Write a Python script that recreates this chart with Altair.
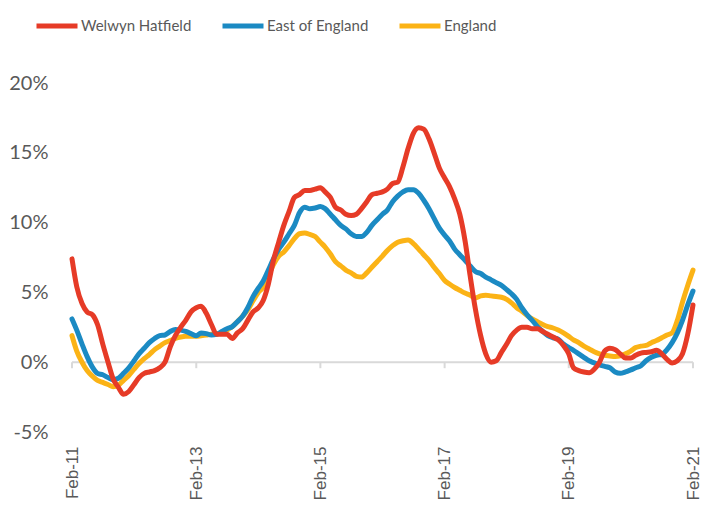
import altair as alt
import pandas as pd

series_names = ["Welwyn Hatfield", "East of England", "England"]
series_colors = ["#E63B27", "#1B8AC3", "#FBB316"]

start_month = "2011-02-01"
n_months = 121

welwyn = [7.4, 5.4, 4.2, 3.6, 3.4, 2.7, 1.3, 0.0, -1.2, -1.8,
          -2.3, -2.1, -1.6, -1.1, -0.8, -0.7, -0.6, -0.4, 0.0, 1.1,
          1.9, 2.5, 3.0, 3.6, 3.9, 4.0, 3.5, 2.7, 2.0, 2.0,
          2.0, 1.7, 2.1, 2.4, 3.0, 3.6, 3.9, 4.4, 5.6, 7.3,
          8.6, 9.8, 10.8, 11.8, 12.0, 12.3, 12.3, 12.4, 12.5, 12.2,
          11.8, 11.1, 10.9, 10.6, 10.5, 10.6, 11.0, 11.5, 12.0, 12.1,
          12.2, 12.4, 12.8, 12.9, 14.0, 15.3, 16.4, 16.8, 16.7, 16.0,
          15.0, 13.9, 13.2, 12.6, 11.7, 10.6, 8.7, 6.2, 3.8, 1.9,
          0.6, 0.0, 0.1, 0.7, 1.3, 1.9, 2.3, 2.5, 2.5, 2.4,
          2.4, 2.2, 2.0, 1.8, 1.6, 1.2, 0.6, -0.4, -0.6, -0.7,
          -0.75, -0.5, 0.0, 0.8, 1.0, 0.9, 0.6, 0.3, 0.3, 0.5,
          0.65, 0.7, 0.75, 0.85, 0.6, 0.2, -0.05, 0.1, 0.6, 2.0,
          4.1]

east = [3.1, 2.3, 1.3, 0.4, -0.35, -0.8, -0.9, -1.1, -1.25, -1.15,
        -0.8, -0.4, 0.1, 0.6, 1.0, 1.4, 1.7, 1.9, 1.95, 2.2,
        2.35, 2.3, 2.2, 2.05, 1.9, 2.1, 2.05, 1.95, 2.0, 2.2,
        2.4, 2.55, 2.9, 3.3, 3.9, 4.7, 5.3, 5.8, 6.6, 7.4,
        8.1, 8.6, 9.2, 9.8, 10.7, 11.1, 11.0, 11.05, 11.15, 11.0,
        10.6, 10.2, 9.8, 9.55, 9.2, 9.0, 9.0, 9.3, 9.8, 10.2,
        10.6, 10.9, 11.5, 11.9, 12.2, 12.35, 12.35, 12.1, 11.6, 11.0,
        10.3, 9.6, 9.1, 8.7, 8.1, 7.7, 7.3, 6.9, 6.5, 6.35,
        6.1, 5.9, 5.7, 5.5, 5.2, 4.9, 4.5, 3.9, 3.4, 3.0,
        2.55, 2.2, 1.9, 1.75, 1.65, 1.3, 1.05, 0.85, 0.6, 0.35,
        0.1, -0.05, -0.2, -0.3, -0.4, -0.7, -0.8, -0.7, -0.55, -0.4,
        -0.25, 0.1, 0.35, 0.5, 0.55, 0.9, 1.4, 2.1, 3.0, 4.1,
        5.1]

england = [1.9, 0.8, 0.0, -0.6, -1.0, -1.3, -1.45, -1.6, -1.75, -1.65,
           -1.3, -0.95, -0.5, -0.1, 0.25, 0.55, 0.9, 1.15, 1.4, 1.55,
           1.7, 1.8, 1.85, 1.85, 1.85, 1.9, 1.95, 2.0, 2.03, 2.1,
           2.3, 2.55, 2.9, 3.3, 3.75, 4.4, 5.0, 5.35, 6.2, 7.0,
           7.6, 7.9, 8.35, 8.85, 9.2, 9.25, 9.15, 9.0, 8.6, 8.25,
           7.75, 7.2, 6.9, 6.6, 6.4, 6.15, 6.1, 6.4, 6.8, 7.2,
           7.6, 8.0, 8.35, 8.6, 8.7, 8.75, 8.5, 8.1, 7.7, 7.3,
           6.8, 6.35, 5.85, 5.6, 5.35, 5.15, 4.95, 4.8, 4.6, 4.75,
           4.8, 4.75, 4.7, 4.65, 4.5, 4.25, 3.9, 3.65, 3.35, 3.1,
           2.9, 2.7, 2.55, 2.45, 2.3, 2.1, 1.85, 1.6, 1.4, 1.15,
           0.95, 0.75, 0.6, 0.5, 0.45, 0.4, 0.45, 0.6, 0.8, 1.05,
           1.15, 1.2, 1.4, 1.55, 1.75, 1.95, 2.1, 3.0, 4.3, 5.5,
           6.6]

x_tick_dates = ["2011-02-01", "2013-02-01", "2015-02-01", "2017-02-01",
                "2019-02-01", "2021-02-01"]
y_ticks = [-5, 0, 5, 10, 15, 20]

dates = pd.date_range(start_month, periods=n_months, freq="MS")
rows = []
for name, vals in zip(series_names, [welwyn, east, england]):
    for d, v in zip(dates, vals):
        rows.append({"date": d.strftime("%Y-%m-%d"), "series": name, "value": v})
df = pd.DataFrame(rows)

first_date = dates[0].strftime("%Y-%m-%d")
last_date = dates[-1].strftime("%Y-%m-%d")

FONT_GREY = "#595959"

x_scale = alt.Scale(domain=[first_date, last_date])
y_scale = alt.Scale(domain=[-5, 20], nice=False)
color_scale = alt.Scale(domain=series_names, range=series_colors)

x_axis = alt.Axis(values=x_tick_dates, format="%b-%y", labelAngle=-90,
                  domain=False, ticks=False, tickSize=0, grid=False,
                  labelFont="Liberation Sans", labelFontSize=17,
                  labelColor=FONT_GREY, labelPadding=14, title=None)
y_axis = alt.Axis(values=y_ticks, labelExpr="datum.value + '%'",
                  domain=False, ticks=False, grid=False,
                  labelFont="Lato", labelFontSize=20,
                  labelColor=FONT_GREY, labelPadding=24, title=None)


def X(field):
    return alt.X(field, type="temporal", scale=x_scale, axis=x_axis, title=None)


def Y(field):
    return alt.Y(field, type="quantitative", scale=y_scale, axis=y_axis, title=None)


zero_df = pd.DataFrame({"start": [first_date], "end": [last_date], "v": [0]})
zero_line = alt.Chart(zero_df).mark_rule(color="#D9D9D9", strokeWidth=2).encode(
    x=X("start"),
    x2="end:T",
    y=Y("v"),
)

tick_df = pd.DataFrame({"date": x_tick_dates, "v": [0] * len(x_tick_dates)})
tick_marks = alt.Chart(tick_df).mark_rule(color="#D9D9D9", strokeWidth=2, y2Offset=6).encode(
    x=X("date"),
    y=Y("v"),
    y2="v:Q",
)

legend = alt.Legend(orient="none", legendX=-38, legendY=-80, direction="horizontal",
                    title=None, symbolType="stroke", symbolSize=1681,
                    symbolStrokeWidth=5, labelFont="Lato", labelFontSize=15,
                    labelColor=FONT_GREY, labelOffset=1, columnPadding=20,
                    labelLimit=300)


def series_layer(name, with_legend=False):
    return alt.Chart(df).transform_filter(alt.datum.series == name).mark_line(
        strokeWidth=5, strokeCap="round", strokeJoin="round", interpolate="monotone"
    ).encode(
        x=X("date"),
        y=Y("value"),
        color=alt.Color("series:N", scale=color_scale,
                        legend=legend if with_legend else None),
    )


chart = alt.layer(
    zero_line,
    tick_marks,
    series_layer("England", with_legend=True),
    series_layer("East of England"),
    series_layer("Welwyn Hatfield"),
).properties(
    width=621, height=349,
    autosize=alt.AutoSizeParams(type="none"),
    padding={"left": 64, "top": 75, "right": 10, "bottom": 70},
).configure_view(stroke=None)

chart.save("out.html", embed_options={"renderer": "svg", "actions": False})
